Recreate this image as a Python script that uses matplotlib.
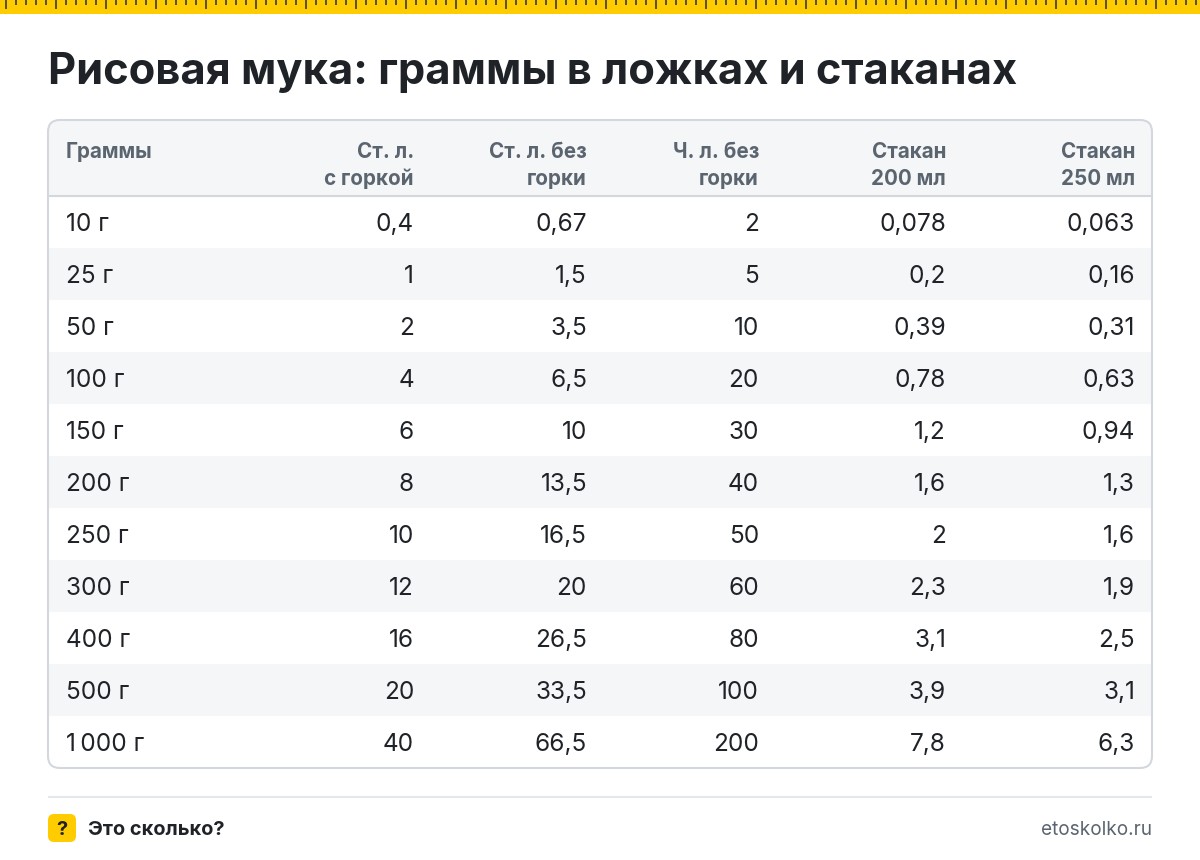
import matplotlib
matplotlib.use('Agg')
import matplotlib.pyplot as plt
from matplotlib.patches import FancyBboxPatch, Rectangle

plt.rcParams['font.family'] = ['Inter', 'DejaVu Sans']

title = 'Рисовая мука: граммы в ложках и стаканах'
headers = ['Граммы', 'Ст. л.\nс горкой', 'Ст. л. без\nгорки', 'Ч. л. без\nгорки', 'Стакан\n200 мл', 'Стакан\n250 мл']
grams = ['10 г', '25 г', '50 г', '100 г', '150 г', '200 г', '250 г', '300 г', '400 г', '500 г', '1\u2009000 г']
heaped = ['0,4', '1', '2', '4', '6', '8', '10', '12', '16', '20', '40']
level = ['0,67', '1,5', '3,5', '6,5', '10', '13,5', '16,5', '20', '26,5', '33,5', '66,5']
teaspoon = ['2', '5', '10', '20', '30', '40', '50', '60', '80', '100', '200']
glass_200 = ['0,078', '0,2', '0,39', '0,78', '1,2', '1,6', '2', '2,3', '3,1', '3,9', '7,8']
glass_250 = ['0,063', '0,16', '0,31', '0,63', '0,94', '1,3', '1,6', '1,9', '2,5', '3,1', '6,3']

columns = [heaped, level, teaspoon, glass_200, glass_250]
col_right = [414, 587, 759, 946, 1135]

DARK = '#1f2328'
GREY = '#5b6570'
LINE = '#d3d8de'
STRIPE = '#f5f6f8'
YELLOW = '#ffcc00'


def px(size):
    return size * 72 / 100


fig = plt.figure(figsize=(12, 8.6), dpi=100, facecolor='white')
ax = fig.add_axes([0, 0, 1, 1])
ax.set_xlim(0, 1200)
ax.set_ylim(860, 0)
ax.axis('off')

# ruler strip
ax.add_patch(Rectangle((0, 0), 1200, 14, color=YELLOW, lw=0))
for i, x in enumerate(range(6, 1200, 10)):
    h = 8.5 if i % 5 == 0 else 5
    ax.add_patch(Rectangle((x - 1, 0), 2, h, color='#5e5220', lw=0))

ax.text(48, 84, title, fontsize=px(43.4), fontweight='bold', color=DARK, va='baseline', ha='left')

# card
card = FancyBboxPatch((48, 120), 1104, 648, boxstyle='round,pad=0,rounding_size=12',
                      facecolor='white', edgecolor='none', zorder=1)
ax.add_patch(card)

head_bg = Rectangle((48, 120), 1104, 76, color=STRIPE, lw=0, zorder=2)
ax.add_patch(head_bg)
head_bg.set_clip_path(card)
ax.plot([48, 1152], [196, 196], color=LINE, lw=1.5, zorder=3, solid_capstyle='butt')

row_h = 52
row_top = 196
for r, g in enumerate(grams):
    top = row_top + r * row_h
    base = top + 35
    if r % 2 == 1:
        ax.add_patch(Rectangle((48, top), 1104, row_h, color=STRIPE, lw=0, zorder=2))
    ax.text(65.5, base, g, fontsize=px(24.4), color=DARK, va='baseline', ha='left', zorder=4)
    for col, right in zip(columns, col_right):
        ax.text(right, base, col[r], fontsize=px(24.4), color=DARK, va='baseline', ha='right', zorder=4)

ax.text(65.5, 158, headers[0], fontsize=px(20.6), fontweight='bold', color=GREY, va='baseline', ha='left', zorder=4)
for head, right in zip(headers[1:], col_right):
    line1, line2 = head.split('\n')
    ax.text(right, 158, line1, fontsize=px(20.6), fontweight='bold', color=GREY, va='baseline', ha='right', zorder=4)
    ax.text(right, 185, line2, fontsize=px(20.6), fontweight='bold', color=GREY, va='baseline', ha='right', zorder=4)

border = FancyBboxPatch((48, 120), 1104, 648, boxstyle='round,pad=0,rounding_size=12',
                        facecolor='none', edgecolor=LINE, lw=1.5, zorder=5)
ax.add_patch(border)

# footer
ax.plot([48, 1152], [796.5, 796.5], color='#e4e8ec', lw=1.5, solid_capstyle='butt')
ax.add_patch(FancyBboxPatch((48, 814), 28, 28, boxstyle='round,pad=0,rounding_size=6',
                            facecolor=YELLOW, edgecolor='none'))
ax.text(62, 835, '?', fontsize=px(20), fontweight='bold', color=DARK, va='baseline', ha='center')
ax.text(88, 835, 'Это сколько?', fontsize=px(20), fontweight='bold', color=DARK, va='baseline', ha='left')
ax.text(1152, 835, 'etoskolko.ru', fontsize=px(19), color=GREY, va='baseline', ha='right')

fig.savefig('out.png', dpi=100)
